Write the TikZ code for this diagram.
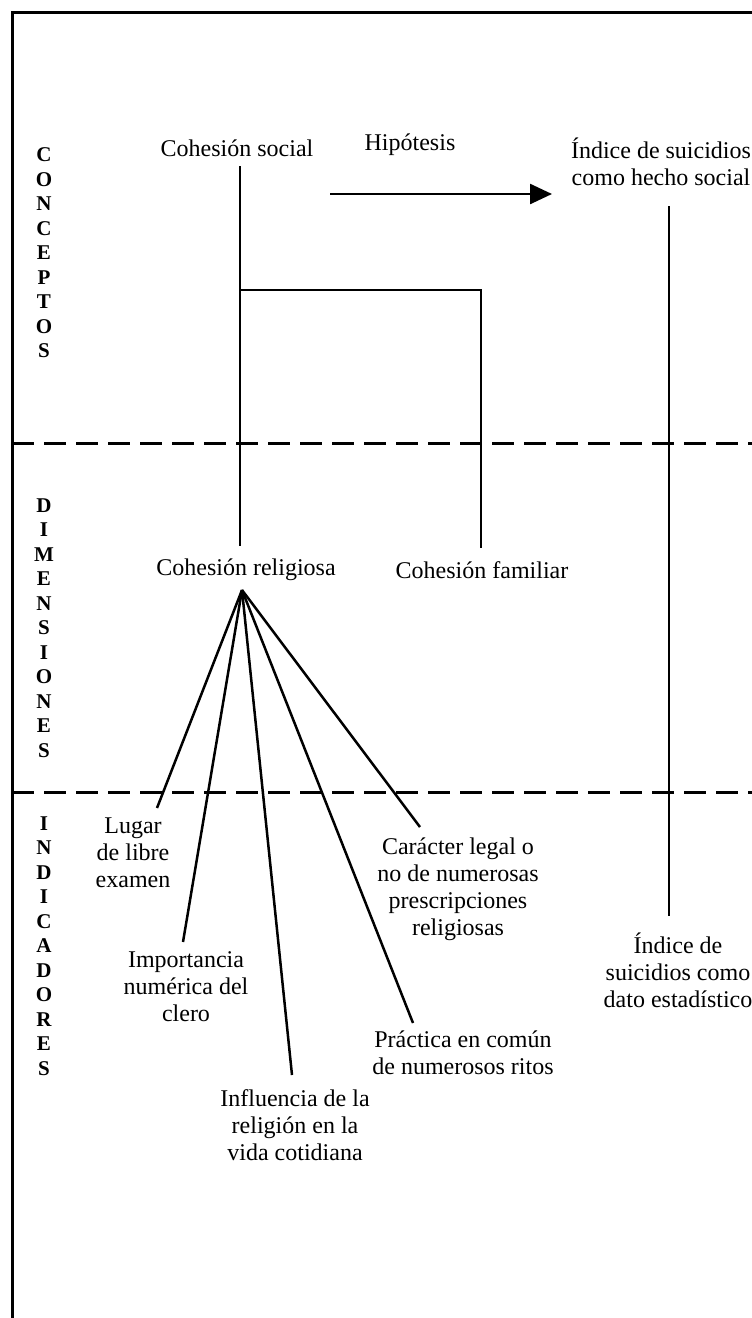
\documentclass[tikz,border=0pt]{standalone}
\usepackage{fontspec}
\setmainfont{Liberation Serif}
\usetikzlibrary{arrows.meta}
\begin{document}
\begin{tikzpicture}[x=1pt,y=-1pt,
  lbl/.style={inner sep=0pt,align=center,font=\fontsize{24}{27}\selectfont},
  side/.style={inner sep=0pt,align=center,font=\fontsize{21}{24.5}\selectfont\bfseries},
  link/.style={line width=2.5pt},
  band/.style={line width=3pt,dash pattern=on 22pt off 10pt},
  frame/.style={line width=3pt}]
\useasboundingbox (0,0) rectangle (752,1318);
% outer frame (open on the right and bottom)
\draw[frame] (12,1318) -- (12,12) -- (752,12);
% level separators
\draw[band] (12,443) -- (752,443);
\draw[band] (12,792) -- (752,792);
% level names
\node[side] (conc) at (44,253) {C\\O\\N\\C\\E\\P\\T\\O\\S};
\node[side] (dime) at (44,628) {D\\I\\M\\E\\N\\S\\I\\O\\N\\E\\S};
\node[side] (indi) at (44,946) {I\\N\\D\\I\\C\\A\\D\\O\\R\\E\\S};
% concepts
\node[lbl] (cs) at (237,148) {Cohesión social};
\node[lbl] (hip) at (410,145) {Hipótesis};
\node[lbl] (ihs) at (661,162) {Índice de suicidios\\como hecho social};
\coordinate (arA) at (330,194);
\coordinate (arB) at (552,194);
\draw[link,-{Triangle[length=22pt,width=20pt]}] (arA) -- (arB);
% dimensions
\node[lbl] (cr) at (246,570) {Cohesión religiosa};
\node[lbl] (cf) at (482,570) {Cohesión familiar};
\coordinate (csB) at (240,166);
\coordinate (crT) at (240,546);
\coordinate (brL) at (240,290);
\coordinate (brR) at (481,290);
\coordinate (cfT) at (481,548);
\draw[link] (csB) -- (crT);
\draw[link] (brL) -- (brR) -- (cfT);
% statistical index
\coordinate (ihsB) at (669,206);
\coordinate (ideT) at (669,916);
\draw[link] (ihsB) -- (ideT);
\node[lbl] (ide) at (678,970) {Índice de\\suicidios como\\dato estadístico};
% indicators
\node[lbl] (i1) at (133,853) {Lugar\\de libre\\examen};
\node[lbl] (i2) at (186,987) {Importancia\\numérica del\\clero};
\node[lbl] (i3) at (295,1125) {Influencia de la\\religión en la\\vida cotidiana};
\node[lbl] (i4) at (463,1053) {Práctica en común\\de numerosos ritos};
\node[lbl] (i5) at (458,889) {Carácter legal o\\no de numerosas\\prescripciones\\religiosas};
\coordinate (apex) at (242,590);
\coordinate (e1) at (157,808);
\coordinate (e2) at (183,942);
\coordinate (e3) at (292,1075);
\coordinate (e4) at (413,1023);
\coordinate (e5) at (420,827);
\foreach \e in {e1,e2,e3,e4,e5} \draw[link] (apex) -- (\e);
\end{tikzpicture}
\end{document}
